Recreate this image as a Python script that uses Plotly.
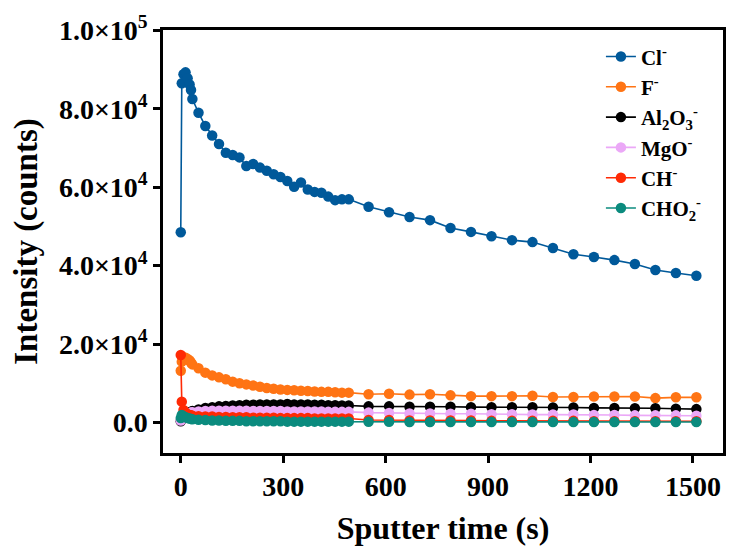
import plotly.graph_objects as go

# ---- data ----
time_s = [0, 3, 8, 14, 20, 26, 30, 34, 52, 72, 92, 112, 132, 152, 172, 192, 212, 232,
          252, 272, 292, 312, 332, 352, 372, 392, 412, 432, 452, 472, 492,
          550, 610, 670, 730, 790, 850, 910, 970, 1030, 1090, 1150, 1210, 1270,
          1330, 1390, 1450, 1510]

cl = [48500, 86500, 88800, 89300, 87800, 86200, 84800, 82500, 79000, 75600, 73200,
      71000, 68800, 68200, 67600, 65400, 65900, 65000, 64200, 63300, 62600, 61600,
      60100, 61200, 59400, 58800, 58600, 57600, 56700, 56900, 56900,
      55000, 53600, 52400, 51600, 49600, 48600, 47500, 46500, 46000, 44500, 42900,
      42200, 41400, 40400, 38900, 38100, 37400]

f = [13200, 15500, 16600, 16500, 16200, 15800, 15300, 14800, 13800, 12700, 12000,
     11500, 11000, 10400, 10000, 9700, 9400, 9100, 8800, 8600, 8400, 8300, 8200,
     8100, 8000, 7900, 7800, 7800, 7700, 7600, 7600,
     7200, 7300, 7100, 7200, 6900, 6700, 6700, 6700, 6800, 6500, 6500, 6600, 6600,
     6600, 6200, 6400, 6400]

al2o3 = [300, 800, 1300, 1800, 2200, 2500, 2700, 2900, 3300, 3700, 3900, 4100, 4200,
         4300, 4400, 4500, 4500, 4600, 4600, 4600, 4600, 4700, 4600, 4600, 4600,
         4500, 4500, 4400, 4400, 4300, 4300,
         4100, 4100, 4000, 4000, 4000, 3900, 3900, 3900, 3900, 3800, 3800, 3700,
         3700, 3600, 3600, 3500, 3400]

mgo = [500, 1000, 1500, 1900, 2200, 2400, 2500, 2600, 2800, 2900, 3000, 3000, 3000,
       3000, 3000, 3000, 2900, 2900, 2900, 2900, 2900, 2800, 2800, 2800, 2800, 2800,
       2800, 2700, 2700, 2700, 2700,
       2500, 2400, 2300, 2300, 2200, 2200, 2100, 2100, 2000, 2000, 2000, 1900, 1900,
       1800, 1800, 1800, 1700]

ch = [17200, 5300, 3200, 2500, 2100, 1900, 1800, 1700, 1600, 1500, 1500, 1400, 1400,
      1300, 1300, 1300, 1200, 1200, 1200, 1200, 1100, 1100, 1100, 1100, 1100, 1000,
      1000, 1000, 1000, 1000, 1000,
      600, 600, 500, 500, 500, 500, 400, 400, 400, 400, 400, 300, 300, 300, 300, 300, 300]

cho2 = [1100, 1900, 1500, 1300, 1100, 1000, 900, 800, 700, 600, 500, 500, 400, 400,
        400, 300, 300, 300, 300, 300, 300, 200, 200, 200, 200, 200, 200, 200, 200,
        200, 200,
        150, 150, 100, 100, 100, 100, 100, 100, 100, 100, 100, 100, 100, 100, 100, 100, 100]

series_names = ["Cl<sup>-</sup>", "F<sup>-</sup>", "Al<sub>2</sub>O<sub>3</sub><sup>-</sup>",
                "MgO<sup>-</sup>", "CH<sup>-</sup>", "CHO<sub>2</sub><sup>-</sup>"]
series_values = [cl, f, al2o3, mgo, ch, cho2]
series_colors = ["#00599A", "#FF7414", "#000000", "#EBA8F7", "#FF2A05", "#0B8B7E"]

x_tickvals = [0, 300, 600, 900, 1200, 1500]
y_tickvals = [0, 20000, 40000, 60000, 80000, 100000]
y_ticktext = ["0.0", "2.0×10<sup>4</sup>", "4.0×10<sup>4</sup>", "6.0×10<sup>4</sup>",
              "8.0×10<sup>4</sup>", "1.0×10<sup>5</sup>"]

FONT = "Liberation Serif, Times New Roman, serif"

fig = go.Figure()
for name, vals, col in zip(series_names, series_values, series_colors):
    fig.add_trace(go.Scatter(
        x=time_s, y=vals, mode="lines+markers", name=name,
        line=dict(color=col, width=1.6),
        marker=dict(color=col, size=10.5, line=dict(width=0)),
    ))

axis_common = dict(
    showline=True, linecolor="black", linewidth=2.5, mirror=True,
    showgrid=False, zeroline=False, ticks="outside", ticklen=7, tickwidth=2.5,
    tickcolor="black",
    tickfont=dict(family=FONT, size=28, color="black", weight="bold"),
)

fig.update_layout(
    width=729, height=554,
    margin=dict(l=163, r=3, t=30, b=101),
    plot_bgcolor="white", paper_bgcolor="white",
    font=dict(family=FONT, color="black", weight="bold"),
    xaxis=dict(
        range=[-52, 1588], tickvals=x_tickvals,
        title=dict(text="Sputter time (s)", font=dict(family=FONT, size=32, weight="bold"),
                   standoff=16),
        **axis_common,
    ),
    yaxis=dict(
        range=[-7800, 100100], tickvals=y_tickvals, ticktext=y_ticktext,
        title=dict(text="Intensity (counts)", font=dict(family=FONT, size=33, weight="bold"),
                   standoff=12),
        **axis_common,
    ),
    legend=dict(
        x=0.782, y=0.985, xanchor="left", yanchor="top",
        bgcolor="rgba(0,0,0,0)", borderwidth=0,
        font=dict(family=FONT, size=21, color="black", weight="bold"),
        tracegroupgap=0,
    ),
    showlegend=True,
)

fig.write_html("out.html")
